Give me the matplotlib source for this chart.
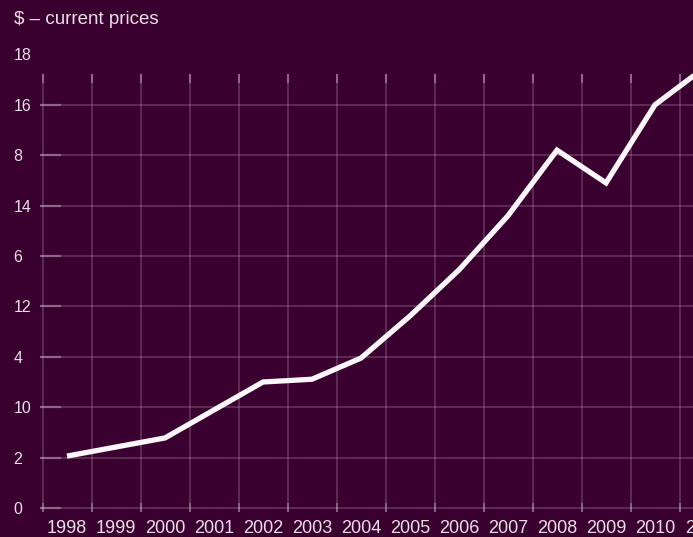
import matplotlib
matplotlib.use("Agg")
import matplotlib.pyplot as plt

# price series, one point per year
years = [1998, 1999, 2000, 2001, 2002, 2003, 2004, 2005, 2006, 2007, 2008, 2009, 2010, 2011]
prices = [2.06, 2.42, 2.78, 3.89, 5.0, 5.11, 5.95, 7.62, 9.45, 11.6, 14.2, 12.9, 16.0, 17.46]

# axis rows, bottom to top, and the text printed next to each row
y_rows = [0, 2, 4, 6, 8, 10, 12, 14, 16, 18]
y_labels = ["0", "2", "10", "4", "12", "6", "14", "8", "16", "18"]
x_labels = [str(y) for y in years]

bg = "#3a002f"
ink = "#e9dfe6"
grid_c = "#d9c3d3"

fig = plt.figure(figsize=(6.93, 5.37), dpi=100, facecolor=bg)
W, H = 693, 537
ax = fig.add_axes([40 / W, (H - 515) / H, (760 - 40) / W, (515 - 50) / H])
ax.set_facecolor(bg)

px_year = 49.0  # pixels per year
ax.set_xlim(1998 + (40 - 67) / px_year, 1998 + (760 - 67) / px_year)
ax.set_ylim((508 - 515) / 25.2, (508 - 50) / 25.2)

# hand drawn looking grid: faint lines with brighter ends
x0, x1 = ax.get_xlim()
top = 17.2
for r in y_rows[:-1]:
    ax.plot([x0, x1], [r, r], color=grid_c, lw=1.3, alpha=0.24, zorder=1)
    ax.plot([x0, x0 + 0.4], [r, r], color=grid_c, lw=1.6, alpha=0.4, zorder=1)
for yr in years:
    gx = yr - 0.5
    ax.plot([gx, gx], [-0.1, top], color=grid_c, lw=1.3, alpha=0.24, zorder=1)
    ax.plot([gx, gx], [top - 0.3, top], color=grid_c, lw=1.5, alpha=0.4, zorder=1)
    ax.plot([gx, gx], [-0.1, 0.15], color=grid_c, lw=1.5, alpha=0.35, zorder=1)

ax.plot(years, prices, color="#fbf6f9", lw=3.8, solid_joinstyle="miter",
        solid_capstyle="butt", zorder=3)

ax.set_yticks(y_rows)
ax.set_yticklabels(y_labels, fontsize=11.5, color=ink, family="Liberation Sans")
for t in ax.get_yticklabels():
    t.set_horizontalalignment("left")
ax.tick_params(axis="y", length=0, pad=19)

ax.set_xticks(years)
ax.set_xticklabels(x_labels, fontsize=13, color=ink, family="Liberation Sans")
ax.tick_params(axis="x", length=0, pad=3.5)

for s in ax.spines.values():
    s.set_visible(False)

fig.text(14 / W, 1 - 20 / H, "$ \u2013 current prices", fontsize=13.5, color=ink,
         family="Liberation Sans", va="center", ha="left")

fig.savefig("out.png", dpi=100, facecolor=bg)
